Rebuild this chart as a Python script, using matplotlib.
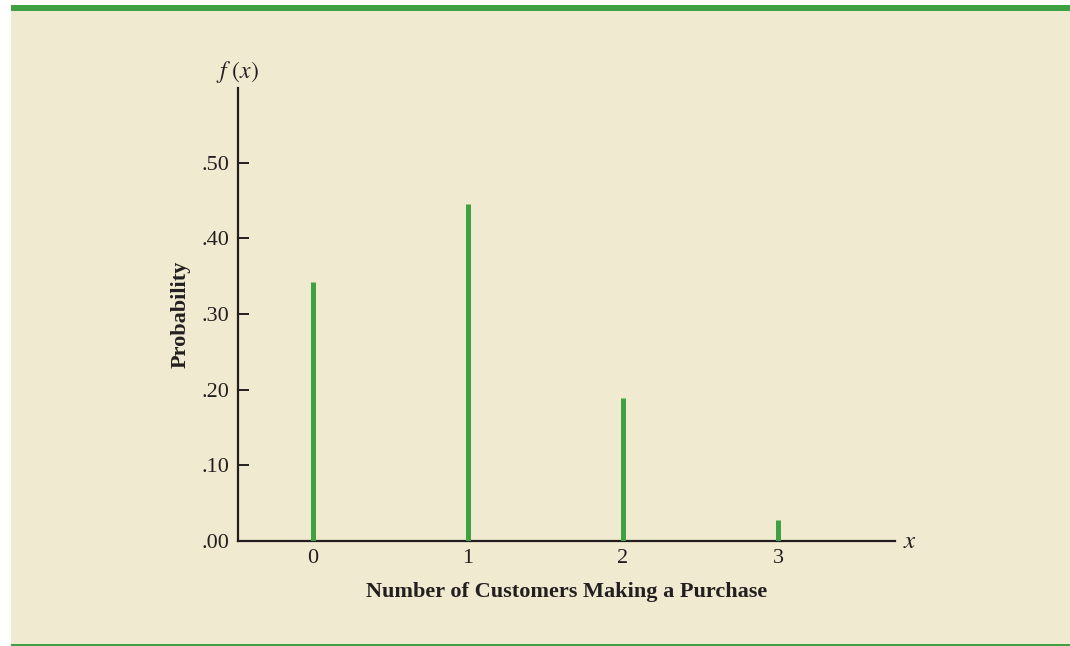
import matplotlib.pyplot as plt
from matplotlib.patches import Rectangle

# data
x_vals = [0, 1, 2, 3]
probs = [0.343, 0.445, 0.189, 0.028]
y_ticks = [0.0, 0.1, 0.2, 0.3, 0.4, 0.5]
y_labels = [".00", ".10", ".20", ".30", ".40", ".50"]

bg = "#f0ead0"
green = "#3fa142"
ink = "#231f20"

plt.rcParams['font.family'] = ['Liberation Serif', 'DejaVu Serif']

fig = plt.figure(figsize=(10.7, 6.46), dpi=100)
fig.patch.set_facecolor("white")

# page background, top bar and bottom rule
fig.patches.append(Rectangle((11/1070, 1/646), 1 - 11/1070, 1 - 12/646,
                             transform=fig.transFigure, facecolor=bg, edgecolor="none", zorder=-3))
fig.patches.append(Rectangle((11/1070, 1 - 11/646), 1 - 11/1070, 6/646,
                             transform=fig.transFigure, facecolor=green, edgecolor="none", zorder=-2))
fig.patches.append(Rectangle((11/1070, 0), 1 - 11/1070, 2/646,
                             transform=fig.transFigure, facecolor=green, edgecolor="none", zorder=-2))

ax = fig.add_axes([238/1070, 1 - 541/646, (895 - 238)/1070, (541 - 88)/646])
ax.set_facecolor("none")
ax.vlines(x_vals, 0, probs, color=green, linewidth=3.6, zorder=3)

ax.set_xlim(-0.484, 3.755)
ax.set_ylim(0, 0.599)
ax.spines["top"].set_visible(False)
ax.spines["right"].set_visible(False)
for s in ["left", "bottom"]:
    ax.spines[s].set_color(ink)
    ax.spines[s].set_linewidth(1.6)

ax.set_yticks(y_ticks)
ax.set_yticklabels(y_labels)
ax.set_xticks(x_vals)
ax.set_xticklabels([str(v) for v in x_vals])
ax.tick_params(axis="y", direction="in", length=8, width=1.4, color=ink,
               labelsize=16, labelcolor=ink, pad=6)
ax.tick_params(axis="x", length=0, labelsize=16, labelcolor=ink, pad=6)

ax.set_ylabel("Probability", fontsize=16, fontweight="bold", color=ink, labelpad=8)
ax.set_xlabel("Number of Customers Making a Purchase", fontsize=16, fontweight="bold",
              color=ink, labelpad=10)

fig.text(237/1070, 1 - 72/646, "$f\\ (x)$", fontsize=17, color=ink, ha="center", va="center",
         math_fontfamily="stix")
fig.text(910/1070, 1 - 542/646, "$x$", fontsize=18, color=ink, ha="center", va="center",
         math_fontfamily="stix")

fig.savefig("out.png", dpi=100, facecolor=fig.get_facecolor())
